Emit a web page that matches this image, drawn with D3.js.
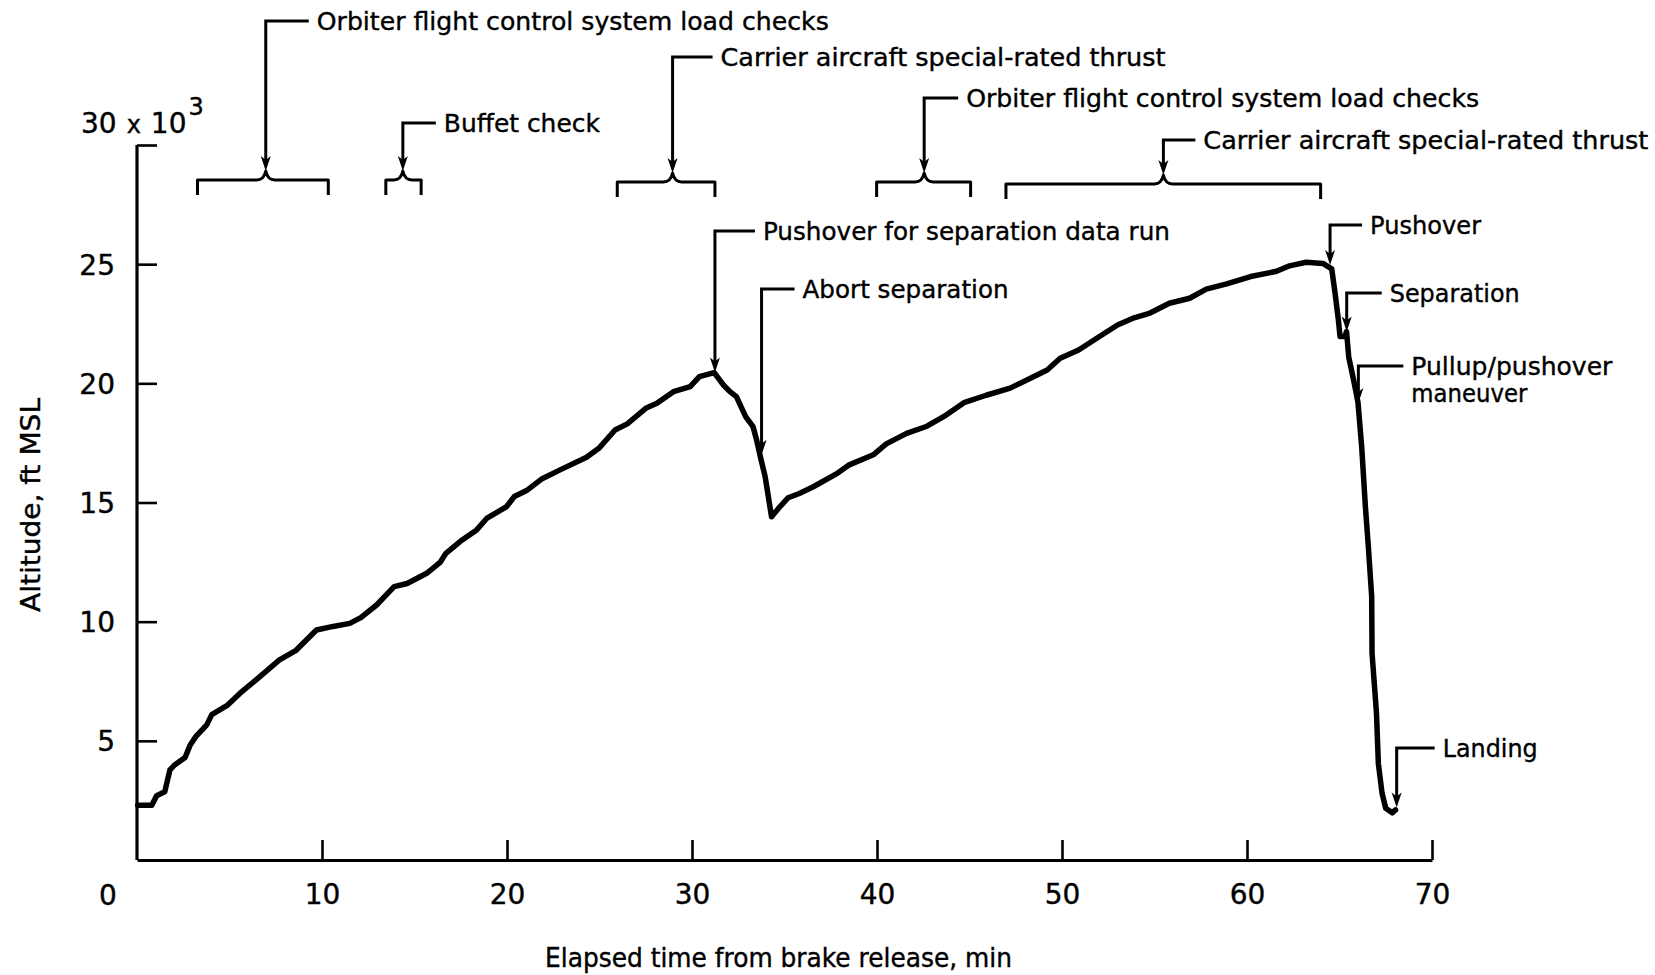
<!DOCTYPE html>
<html>
<head>
<meta charset="utf-8">
<script src="https://cdn.jsdelivr.net/npm/d3@7"></script>
<style>
  body { margin: 0; background: #fff; }
  svg { display: block; font-family: "DejaVu Sans", sans-serif; }
  svg text { stroke: #000; stroke-width: 0.4px; }
</style>
</head>
<body>
<svg id="chart" width="1655" height="975"></svg>
<script>
// altitude trace, elapsed time (min) vs altitude (1000 ft MSL)
const times = [0.04, 0.8, 1.06, 1.5, 1.78, 2.05, 2.6, 2.86, 3.2, 3.77, 4.04, 4.9, 5.57, 6.5, 7.7, 8.6,
  9.7, 10.6, 11.5, 12.1, 12.95, 13.9, 14.6, 15.66, 16.4, 16.7, 17.46, 18.36, 18.9, 19.98, 20.4, 21.06,
  21.9, 22.87, 24.3, 25.0, 25.84, 26.5, 27.5, 28.1, 29.0, 29.9, 30.4, 31.2, 31.7, 32.05, 32.4, 32.9,
  33.3, 33.5, 33.7, 33.95, 34.3, 34.76, 35.2, 35.8, 36.56, 37.8, 38.5, 39.8, 40.5, 41.6, 42.7, 43.6,
  44.7, 45.9, 47.2, 48.1, 49.2, 49.9, 50.9, 51.9, 53.0, 53.9, 54.76, 55.8, 56.9, 57.8, 58.9, 60.2,
  61.6, 62.3, 63.2, 64.1, 64.58, 64.76, 64.94, 65.03, 65.3, 65.38, 65.5, 65.8, 66.0, 66.2, 66.4,
  66.56, 66.74, 66.76, 67.0, 67.1, 67.3, 67.5, 67.85, 68.03];
const altitudes = [2.3, 2.3, 2.7, 2.86, 3.78, 4.0, 4.3, 4.8, 5.2, 5.67, 6.1, 6.5, 7.0, 7.6, 8.4, 8.8,
  9.65, 9.8, 9.93, 10.17, 10.7, 11.47, 11.6, 12.03, 12.5, 12.87, 13.36, 13.85, 14.33, 14.83, 15.25, 15.5,
  16.0, 16.37, 16.9, 17.3, 18.04, 18.3, 18.95, 19.16, 19.65, 19.86, 20.28, 20.45, 19.93, 19.65, 19.44, 18.6,
  18.18, 17.6, 16.9, 16.1, 14.4, 14.83, 15.2, 15.38, 15.66, 16.2, 16.58, 17.0, 17.46, 17.9, 18.2, 18.6,
  19.19, 19.5, 19.8, 20.14, 20.56, 21.05, 21.4, 21.9, 22.45, 22.75, 22.95, 23.36, 23.57, 23.95, 24.17, 24.48,
  24.7, 24.93, 25.08, 25.03, 24.8, 23.78, 22.66, 21.96, 21.96, 22.17, 21.1, 20.0, 19.2, 17.34, 14.82,
  13.14, 11.05, 8.67, 6.15, 4.05, 2.8, 2.17, 1.98, 2.1];

const xTicks = [0, 10, 20, 30, 40, 50, 60, 70];
const yTicks = [5, 10, 15, 20, 25, 30];

// bracketed test periods (min)
const braceStart = [3.27, 13.45, 25.96, 39.98, 46.97];
const braceEnd = [10.34, 15.36, 31.24, 45.06, 63.98];
const braceMid = [6.96, 14.37, 28.95, 42.55, 55.48];
const braceLabels = ["Orbiter flight control system load checks", "Buffet check",
  "Carrier aircraft special-rated thrust", "Orbiter flight control system load checks",
  "Carrier aircraft special-rated thrust"];

// events pointed at on the trace
const eventTimes = [31.24, 33.76, 64.49, 65.39, 66.02, 68.09];
const eventAlts = [20.45, 17.0, 24.97, 22.17, 19.18, 2.2];
const eventLabels = [["Pushover for separation data run"], ["Abort separation"], ["Pushover"],
  ["Separation"], ["Pullup/pushover", "maneuver"], ["Landing"]];

const svg = d3.select("#chart");
const x = d3.scaleLinear().domain([0, 70]).range([137, 1432]);
const y = d3.scaleLinear().domain([0, 30]).range([860, 145]);

// axes
const xAxis = d3.axisBottom(x).tickValues(xTicks.filter(d => d > 0))
  .tickSize(-20).tickSizeOuter(0).tickPadding(24);
const gx = svg.append("g").attr("transform", `translate(0,${y(0)})`).call(xAxis);
const yAxis = d3.axisLeft(y).tickValues(yTicks).tickSize(-20).tickSizeOuter(0).tickPadding(22)
  .tickFormat(d => d === 30 ? "" : d);
const gy = svg.append("g").attr("transform", `translate(${x(0)},0)`).call(yAxis);
gy.select(".domain").attr("d", `M0,${y(0)}V${y(30)}`);

[gx, gy].forEach(g => {
  g.select(".domain").attr("stroke", "#000").attr("stroke-width", 3.2);
  g.selectAll(".tick line").attr("stroke", "#000").attr("stroke-width", 2.6);
  g.selectAll(".tick text").attr("fill", "#000").style("font-size", "28px")
    .style("font-family", "DejaVu Sans");
});
gy.selectAll(".tick text").attr("dy", "0.36em");

// origin label sits left of the corner
svg.append("text").attr("x", x(0) - 29).attr("y", 905).attr("text-anchor", "middle")
  .style("font-size", "28px").text(xTicks[0]);

// 30 x 10^3 label at top of y axis
const unitLabel = svg.append("text").attr("x", 81).attr("y", 133).style("font-size", "28px");
unitLabel.append("tspan").text("30");
unitLabel.append("tspan").attr("dx", 10).style("font-size", "24px").text("x");
unitLabel.append("tspan").attr("dx", 10).text("10");
unitLabel.append("tspan").attr("dy", -18).attr("dx", 2).style("font-size", "24px").text("3");

// axis titles
svg.append("text").attr("x", 545).attr("y", 967)
  .attr("textLength", 467).attr("lengthAdjust", "spacingAndGlyphs")
  .style("font-size", "26px").text("Elapsed time from brake release, min");
svg.append("text").attr("transform", "translate(40,612) rotate(-90)")
  .attr("textLength", 214).attr("lengthAdjust", "spacingAndGlyphs")
  .style("font-size", "26px").text("Altitude, ft MSL");

// trace
svg.append("path")
  .datum(d3.range(times.length))
  .attr("fill", "none").attr("stroke", "#000").attr("stroke-width", 5.5)
  .attr("stroke-linejoin", "round").attr("stroke-linecap", "round")
  .attr("d", d3.line().x(i => x(times[i])).y(i => y(altitudes[i])));

function arrowHead(px, py) {
  svg.append("path").attr("fill", "#000")
    .attr("d", `M${px},${py}L${px - 5},${py - 15}L${px},${py - 11}L${px + 5},${py - 15}Z`);
}

function leader(px, topY, tipY, len, lines, widths) {
  svg.append("path").attr("fill", "none").attr("stroke", "#000").attr("stroke-width", 3)
    .attr("d", `M${px + len},${topY}H${px}V${tipY - 8}`);
  arrowHead(px, tipY);
  lines.forEach((t, k) => {
    svg.append("text").attr("x", px + len + 8).attr("y", topY + 9 + k * 27)
      .attr("textLength", widths[k]).attr("lengthAdjust", "spacingAndGlyphs")
      .style("font-size", "25px").text(t);
  });
}

// braces along the top
const braceRow = [21, 123, 57, 98, 140];
const braceY = [180, 180, 182, 182, 184];
const braceLen = [43, 33, 40, 34, 32];
const braceTextW = [512, 156, 445, 513, 445];
braceStart.forEach((s, i) => {
  const x0 = x(s), x1 = x(braceEnd[i]), xm = x(braceMid[i]), by = braceY[i];
  svg.append("path").attr("fill", "none").attr("stroke", "#000").attr("stroke-width", 3)
    .attr("stroke-linejoin", "round")
    .attr("d", `M${x0},${by + 15}V${by}H${xm - 9}Q${xm - 2},${by} ${xm},${by - 9}` +
      `Q${xm + 2},${by} ${xm + 9},${by}H${x1}V${by + 15}`);
  leader(xm, braceRow[i], by - 9, braceLen[i], [braceLabels[i]], [braceTextW[i]]);
});

// event call-outs
const eventTop = [231, 289, 225, 293, 366, 748];
const eventLen = [40, 33, 32, 35, 45, 38];
const eventTextW = [[407], [206], [111], [130], [201, 116], [95]];
eventTimes.forEach((t, i) => {
  leader(x(t), eventTop[i], y(eventAlts[i]), eventLen[i], eventLabels[i], eventTextW[i]);
});
</script>
</body>
</html>
